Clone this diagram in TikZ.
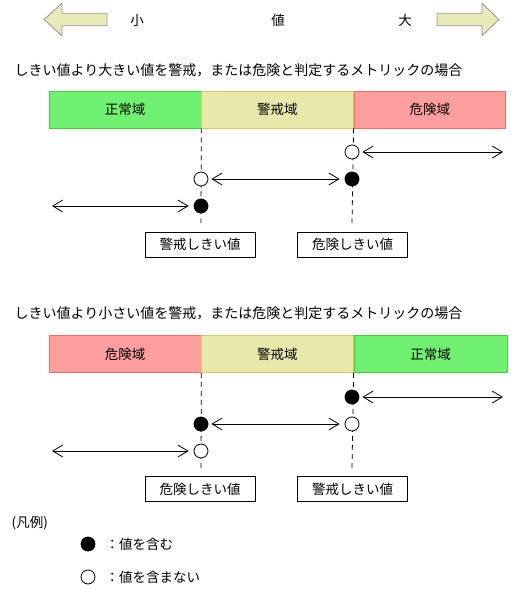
\documentclass[tikz,border=0pt]{standalone}
\usepackage{fontspec}
\setmainfont{Noto Sans CJK JP}
\usetikzlibrary{arrows.meta,positioning,calc}

\definecolor{okgreen}{RGB}{112,240,112}
\definecolor{okgreenline}{RGB}{70,205,70}
\definecolor{warnyellow}{RGB}{232,232,170}
\definecolor{warnyellowline}{RGB}{205,205,110}
\definecolor{dangerred}{RGB}{255,158,158}
\definecolor{dangerredline}{RGB}{235,110,110}
\definecolor{scalefill}{RGB}{232,234,184}
\definecolor{scaleline}{RGB}{150,150,150}

\begin{document}
\begin{tikzpicture}[x=1pt,y=-1pt,line width=0.8pt,
  every node/.style={font=\fontsize{13.5}{16}\selectfont},
  heading/.style={anchor=west,font=\fontsize{14}{16}\selectfont},
  zone/.style={minimum height=37pt,minimum width=151.5pt,inner sep=0pt},
  incl/.style={circle,draw,fill=black,minimum size=14pt,inner sep=0pt},
  excl/.style={circle,draw,fill=white,minimum size=14pt,inner sep=0pt},
  bothway/.style={{Straight Barb[length=10pt,width=12pt]}-{Straight Barb[length=10pt,width=12pt]}},
  limitbox/.style={draw,minimum width=110pt,minimum height=25pt,inner sep=0pt},
  limitline/.style={dash pattern=on 5pt off 4pt}]
\useasboundingbox (0,0) rectangle (517,589);

% Value scale (top)
\filldraw[fill=scalefill,draw=scaleline] (44,19.5) -- (62,3.3) -- (62,13.3) -- (107,13.3)
  -- (107,25.7) -- (62,25.7) -- (62,35.7) -- cycle;
\filldraw[fill=scalefill,draw=scaleline] (499,19.5) -- (482,3.3) -- (482,13.3) -- (437,13.3)
  -- (437,25.7) -- (482,25.7) -- (482,35.7) -- cycle;
\node (small) at (137,20) {小};
\node (value) at (278,20) {値};
\node (large) at (405,20) {大};

% Case 1: larger values are warning / danger
\node[heading] (title1) at (11,70) {しきい値より大きい値を警戒，または危険と判定するメトリックの場合};
\node[zone,anchor=west,fill=okgreen,draw=okgreenline] (normal1) at (49,109.5) {正常域};
\node[zone,right=0pt of normal1,fill=warnyellow,draw=warnyellowline] (warn1) {警戒域};
\node[zone,right=0pt of warn1,fill=dangerred,draw=dangerredline] (danger1) {危険域};

\coordinate (wl1) at (201,223);
\coordinate (dl1) at (352,223);
\draw[limitline] (warn1.south west) -- (wl1);
\draw[limitline] (danger1.south west) -- (dl1);

\node[excl] (d1o) at (352,152) {};
\node[excl] (w1o) at (201,179) {};
\node[incl] (d1i) at (352,179) {};
\node[incl] (w1i) at (201,206) {};
\coordinate (hi1) at (503,152);
\coordinate (lo1) at (52,206);
\draw[bothway] ([xshift=3pt]d1o.east) -- (hi1);
\draw[bothway] ([xshift=3pt]w1o.east) -- ([xshift=-5pt]d1i.west);
\draw[bothway] (lo1) -- ([xshift=-5pt]w1i.west);

\node[limitbox] (warnlimit1) at (200,244.5) {警戒しきい値};
\node[limitbox] (dangerlimit1) at (352.5,244.5) {危険しきい値};

% Case 2: smaller values are warning / danger
\node[heading] (title2) at (11,313) {しきい値より小さい値を警戒，または危険と判定するメトリックの場合};
\node[zone,anchor=west,fill=dangerred,draw=dangerredline] (danger2) at (49,354) {危険域};
\node[zone,right=0pt of danger2,fill=warnyellow,draw=warnyellowline] (warn2) {警戒域};
\node[zone,right=0pt of warn2,fill=okgreen,draw=okgreenline,minimum width=153pt] (normal2) {正常域};

\coordinate (dl2) at (201,468);
\coordinate (wl2) at (352,468);
\draw[limitline] (warn2.south west) -- (dl2);
\draw[limitline] (normal2.south west) -- (wl2);

\node[incl] (w2i) at (352,397) {};
\node[incl] (d2i) at (201,424) {};
\node[excl] (w2o) at (352,424) {};
\node[excl] (d2o) at (201,451) {};
\coordinate (hi2) at (503,397);
\coordinate (lo2) at (52,451);
\draw[bothway] ([xshift=3pt]w2i.east) -- (hi2);
\draw[bothway] ([xshift=3pt]d2i.east) -- ([xshift=-5pt]w2o.west);
\draw[bothway] (lo2) -- ([xshift=-5pt]d2o.west);

\node[limitbox] (dangerlimit2) at (200,489) {危険しきい値};
\node[limitbox] (warnlimit2) at (352.5,489) {警戒しきい値};

% Legend
\node[anchor=west] (legend) at (8,523) {(凡例)};
\node[incl] (keyincl) at (88,544) {};
\node[anchor=west] (keyincltext) at (102,544) {：値を含む};
\node[excl] (keyexcl) at (88,577) {};
\node[anchor=west] (keyexcltext) at (102,577) {：値を含まない};
\end{tikzpicture}
\end{document}
